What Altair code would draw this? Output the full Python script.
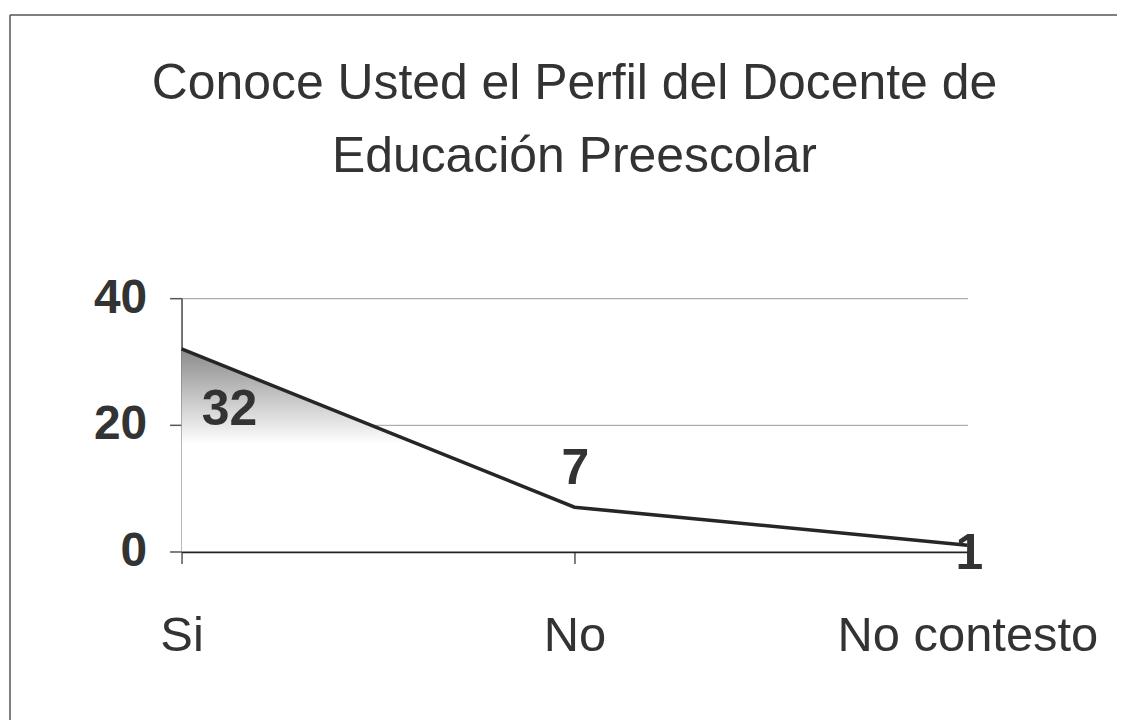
import altair as alt
import pandas as pd

categories = ["Si", "No", "No contesto"]
values = [32, 7, 1]
title_lines = ["Conoce Usted el Perfil del Docente de", "Educación Preescolar"]

df = pd.DataFrame({"respuesta": categories, "cantidad": values})

FONT = "Liberation Sans"
W, H = 788, 254

x_enc = alt.X("respuesta:N", sort=categories, title=None,
              scale=alt.Scale(type="point", padding=0),
              axis=alt.Axis(labelAngle=0, labelFont=FONT, labelFontSize=49,
                            labelColor="#333333", labelPadding=48, labelLimit=0,
                            tickSize=12, tickColor="#555555", tickWidth=1.5,
                            domainColor="#222222", domainWidth=2.5, grid=False))
y_enc = alt.Y("cantidad:Q", title=None,
              scale=alt.Scale(domain=[0, 40], nice=False),
              axis=alt.Axis(values=[0, 20, 40], labelFont=FONT, labelFontSize=48,
                            labelFontWeight="bold", labelColor="#333333",
                            labelPadding=23, tickSize=12, tickColor="#555555",
                            tickWidth=1.5, domainColor="#444444", domainWidth=1.5,
                            grid=True, gridColor="#9a9a9a", gridWidth=1))

base = alt.Chart(df)

area = base.mark_area(
    color=alt.Gradient(gradient="linear",
                       stops=[alt.GradientStop(color="#8a8a8a", offset=0),
                              alt.GradientStop(color="#ffffff", offset=0.47),
                              alt.GradientStop(color="#ffffff", offset=1)],
                       x1=0, x2=0, y1=0, y2=1)
).encode(x=x_enc, y=y_enc)

line = base.mark_line(color="#262626", strokeWidth=3.5).encode(x=x_enc, y=y_enc)

def label(cat, dx, dy):
    return base.transform_filter(alt.datum.respuesta == cat).mark_text(
        font=FONT, fontSize=50, fontWeight="bold", color="#333333",
        align="center", baseline="middle", dx=dx, dy=dy
    ).encode(x=alt.X("respuesta:N", sort=categories), y="cantidad:Q",
             text="cantidad:Q")

labels = label("Si", 48, 61) + label("No", 1, -38) + label("No contesto", 2, 9)

frame_data = alt.Data(values=[{"k": 1}])
top_border = alt.Chart(frame_data).mark_rule(color="#555555", strokeWidth=1.5).encode(
    x=alt.value(-172), x2=alt.value(960), y=alt.value(-284))
left_border = alt.Chart(frame_data).mark_rule(color="#555555", strokeWidth=1.5).encode(
    x=alt.value(-172), y=alt.value(-284), y2=alt.value(440))

chart = alt.layer(area, line, labels, top_border, left_border).properties(
    width=W, height=H,
    title=alt.TitleParams(text=title_lines, font=FONT, fontSize=50,
                          fontWeight="normal", color="#333333", lineHeight=73,
                          anchor="middle", frame="group", offset=0, dy=168),
    autosize=alt.AutoSizeParams(type="none"),
    padding={"left": 174, "top": 290, "right": 150, "bottom": 168},
    background="white"
).configure_view(stroke=None)

chart.save("out.html", embed_options={"renderer": "svg", "actions": False})
